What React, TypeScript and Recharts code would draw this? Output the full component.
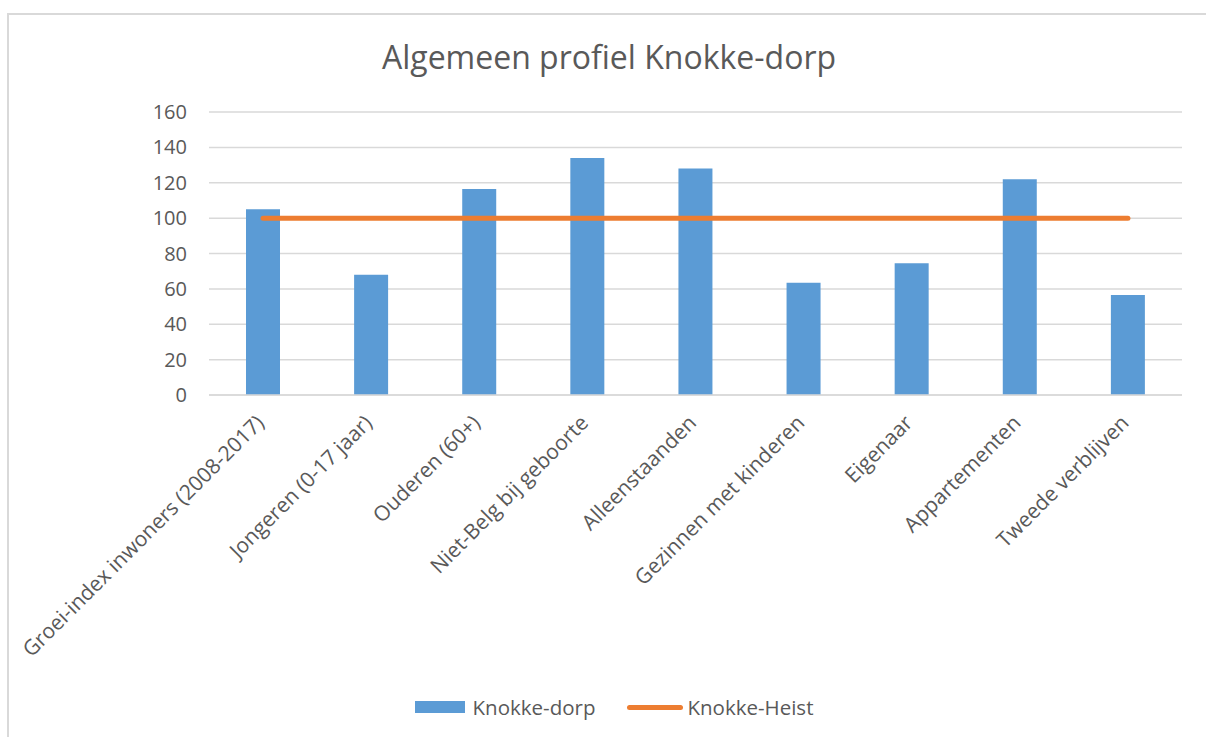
import {
  ComposedChart,
  Bar,
  Line,
  XAxis,
  YAxis,
  CartesianGrid,
  Legend,
} from 'recharts';

const categories = [
  'Groei-index inwoners (2008-2017)',
  'Jongeren (0-17 jaar)',
  'Ouderen (60+)',
  'Niet-Belg bij geboorte',
  'Alleenstaanden',
  'Gezinnen met kinderen',
  'Eigenaar',
  'Appartementen',
  'Tweede verblijven',
];
const dorpValues = [105, 68, 116.5, 134, 128, 63.5, 74.5, 122, 56.5];
const heistValues = [100, 100, 100, 100, 100, 100, 100, 100, 100];
const yTicks = [0, 20, 40, 60, 80, 100, 120, 140, 160];

const FONT = '"Open Sans", "Noto Sans", sans-serif';
const TEXT = '#595959';
const BLUE = '#5b9bd5';
const ORANGE = '#ed7d31';

const data = categories.map((name, i) => ({
  name,
  dorp: dorpValues[i],
  heist: heistValues[i],
}));

// schuine labels onder de x-as
const AngledTick = ({ x, y, payload }: any) => (
  <g transform={`translate(${x - 3},${y + 16})`}>
    <text
      x={0}
      y={0}
      dy="0.35em"
      textAnchor="end"
      transform="rotate(-45)"
      fill={TEXT}
      fontSize={21}
      fontFamily={FONT}
    >
      {payload.value}
    </text>
  </g>
);

const LegendContent = () => (
  <div
    style={{
      height: 24,
      display: 'flex',
      justifyContent: 'center',
      alignItems: 'center',
      paddingLeft: 46,
      fontFamily: FONT,
      fontSize: 20.5,
      color: TEXT,
    }}
  >
    <span style={{ width: 50, height: 12, background: BLUE, marginRight: 8 }} />
    <span>Knokke-dorp</span>
    <span
      style={{
        width: 56,
        height: 5,
        borderRadius: 3,
        background: ORANGE,
        marginLeft: 32,
        marginRight: 4,
      }}
    />
    <span>Knokke-Heist</span>
  </div>
);

const App = () => {
  return (
    <div
      style={{
        position: 'absolute',
        left: 0,
        top: 0,
        width: 1206,
        height: 737,
        overflow: 'hidden',
        background: '#ffffff',
      }}
    >
      <div
        style={{
          position: 'absolute',
          left: 7,
          top: 13,
          width: 1220,
          height: 760,
          border: '2px solid #d9d9d9',
          boxSizing: 'border-box',
        }}
      />
      <div
        style={{
          position: 'absolute',
          left: 0,
          top: 35,
          width: 1218,
          textAlign: 'center',
          fontFamily: FONT,
          fontSize: 32,
          color: TEXT,
        }}
      >
        Algemeen profiel Knokke-dorp
      </div>
      <div style={{ position: 'absolute', left: 0, top: 0 }}>
        <ComposedChart
          width={1206}
          height={737}
          data={data}
          margin={{ top: 112, right: 24, bottom: 18, left: 0 }}
        >
          <CartesianGrid vertical={false} stroke="#d9d9d9" strokeWidth={1.5} />
          <XAxis
            dataKey="name"
            interval={0}
            tickLine={false}
            axisLine={{ stroke: '#d9d9d9', strokeWidth: 1.5 }}
            height={300}
            tick={<AngledTick />}
          />
          <YAxis
            width={209}
            domain={[0, 160]}
            ticks={yTicks}
            tickLine={false}
            axisLine={false}
            tickMargin={16}
            tick={{ fill: TEXT, fontSize: 20, fontFamily: FONT }}
          />
          <Legend verticalAlign="bottom" content={<LegendContent />} />
          <Bar dataKey="dorp" name="Knokke-dorp" fill={BLUE} barSize={34} isAnimationActive={false} />
          <Line
            type="linear"
            dataKey="heist"
            name="Knokke-Heist"
            stroke={ORANGE}
            strokeWidth={5}
            strokeLinecap="round"
            dot={false}
            activeDot={false}
            isAnimationActive={false}
          />
        </ComposedChart>
      </div>
    </div>
  );
};

export default App;
